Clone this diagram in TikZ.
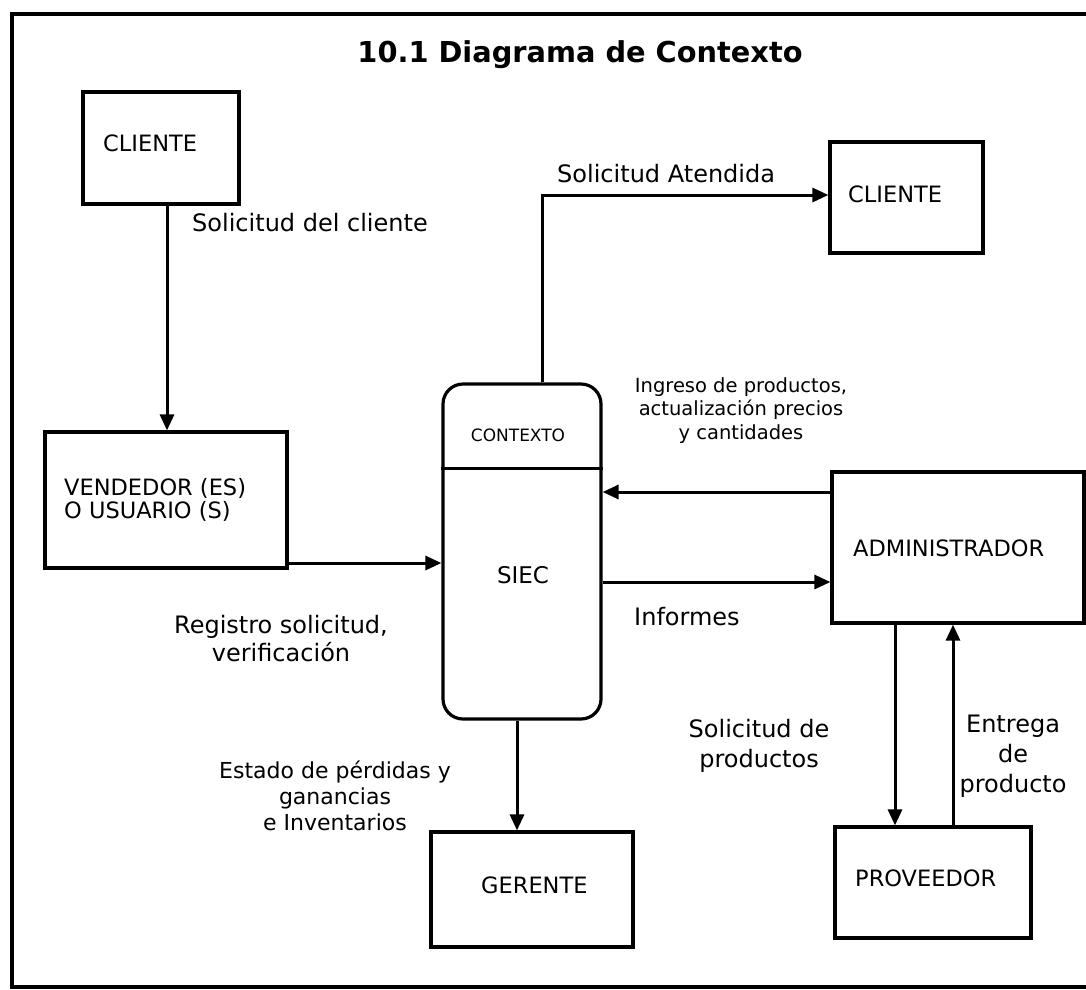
\documentclass[tikz,border=0pt]{standalone}
\usepackage{fontspec}
\setmainfont{DejaVu Sans}
\usetikzlibrary{arrows.meta,calc}
\begin{document}
\begin{tikzpicture}[x=1pt,y=-1pt,
  box/.style={draw,line width=3.2pt,minimum width=#1,inner sep=0pt},
  boxtxt/.style={anchor=west,inner sep=0pt,font=\fontsize{22.5}{23}\selectfont,align=left},
  lbl/.style={inner sep=0pt,font=\fontsize{24}{28}\selectfont,align=center},
  arr/.style={line width=3pt,-{Triangle[length=16pt,width=14pt]}},
  frame/.style={line width=3.2pt}]
\useasboundingbox (0,0) rectangle (1086,989);
\draw[frame] (1086,14) -- (12,14) -- (12,987) -- (1086,987);

% title
\node[anchor=base,inner sep=0pt,font=\fontsize{28.8}{34}\selectfont\bfseries] (title) at (580,62) {10.1 Diagrama de Contexto};

% boxes
\node[box=156pt,minimum height=112pt] (cl1) at (161,148) {};
\node[boxtxt] (tcl1) at (103,143) {CLIENTE};

\node[box=242pt,minimum height=136pt] (vend) at (166,500) {};
\node[boxtxt] (tvend) at (64,499.5) {VENDEDOR (ES)\\O USUARIO (S)};

\node[box=158pt,minimum height=335pt,rounded corners=20pt] (siec) at (522,551.5) {};
\draw[line width=3pt] (siec.west |- 0,468) -- (siec.east |- 0,468);
\node[inner sep=0pt,font=\fontsize{17}{20}\selectfont] (tctx) at (518,435) {CONTEXTO};
\node[inner sep=0pt,font=\fontsize{23}{26}\selectfont] (tsiec) at (523,575) {SIEC};

\node[box=153pt,minimum height=111pt] (cl2) at (906.5,197.5) {};
\node[boxtxt] (tcl2) at (848,194) {CLIENTE};

\node[box=252pt,minimum height=151pt] (admin) at (958,547.5) {};
\node[boxtxt] (tadmin) at (853,548) {ADMINISTRADOR};

\node[box=202pt,minimum height=115pt] (ger) at (532,889.5) {};
\node[boxtxt] (tger) at (481,885) {GERENTE};

\node[box=196pt,minimum height=111pt] (prov) at (933,882.5) {};
\node[boxtxt] (tprov) at (855,878) {PROVEEDOR};

% connectors
\coordinate (p1) at ([xshift=6pt]cl1.south);
\draw[arr] (p1) -- (p1 |- vend.north);
\coordinate (p2) at ([yshift=-63pt]vend.east);
\draw[arr] (p2) -- (p2 -| siec.west);
\coordinate (p3) at ([xshift=20pt]siec.north);
\coordinate (p3b) at ([yshift=2.5pt]cl2.west);
\draw[arr] (p3) |- (p3b);
\coordinate (p4) at ([yshift=55.5pt]admin.west);
\draw[arr] (p4) -- (p4 -| siec.east);
\coordinate (p5) at ([yshift=-34.5pt]admin.west);
\draw[arr] (p5 -| siec.east) -- (p5);
\coordinate (p6) at ([xshift=-5pt]siec.south);
\draw[arr] (p6) -- (p6 |- ger.north);
\coordinate (p7) at ([xshift=-63pt]admin.south);
\draw[arr] (p7) -- (p7 |- prov.north);
\coordinate (p8) at ([xshift=-5pt]admin.south);
\draw[arr] (p8 |- prov.north) -- (p8);

% labels
\node[lbl,anchor=base west] (l1) at (192,231) {Solicitud del cliente};
\node[lbl,anchor=base west] (l2) at (557,182) {Solicitud Atendida};
\node[lbl,anchor=north] (l3) at (281,615) {Registro solicitud,\\verificación};
\node[lbl,anchor=north,font=\fontsize{22}{26}\selectfont] (l4) at (335,761) {Estado de pérdidas y\\ganancias\\e Inventarios};
\node[lbl,anchor=north,font=\fontsize{19.5}{23.5}\selectfont] (l5) at (741,377) {Ingreso de productos,\\actualización precios\\y cantidades};
\node[lbl,anchor=base west] (l6) at (634,625) {Informes};
\node[lbl,anchor=north,font=\fontsize{24}{30}\selectfont] (l7) at (759,719) {Solicitud de\\productos};
\node[lbl,anchor=north,font=\fontsize{24}{30}\selectfont] (l8) at (1013,715) {Entrega\\de\\producto};
\end{tikzpicture}
\end{document}
